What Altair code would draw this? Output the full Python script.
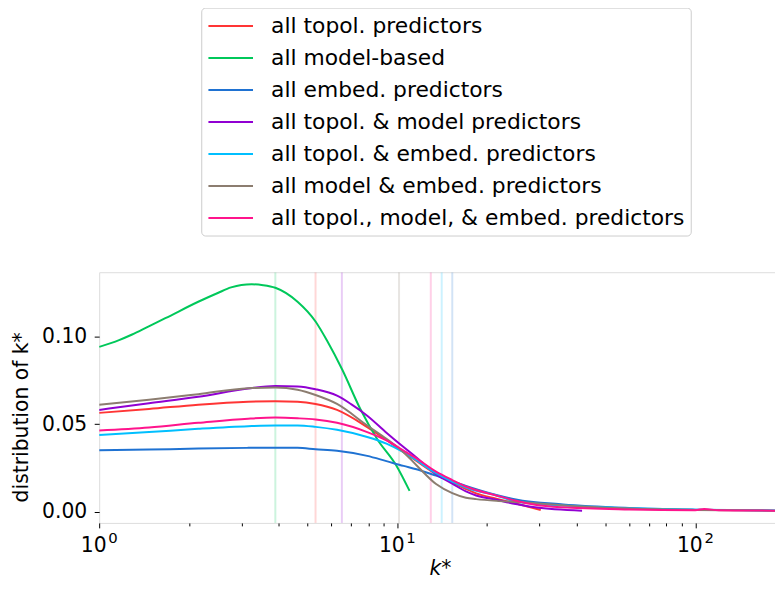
import altair as alt
import pandas as pd

names = [
    "all topol. predictors",
    "all model-based",
    "all embed. predictors",
    "all topol. & model predictors",
    "all topol. & embed. predictors",
    "all model & embed. predictors",
    "all topol., model, & embed. predictors",
]
colors = ["#ff3535", "#00c85a", "#1f72d2", "#9100d2", "#00bfff", "#8c7d70", "#ff148c"]

red_k = [1, 1.47, 2.15, 3.16, 3.9, 4.63, 5.32, 6.28, 7.93, 9.2, 10.5, 11.6, 13.5, 15.3, 17.0, 18.4, 21.5, 25, 30.3]
red_y = [0.0565, 0.0587, 0.0612, 0.0629, 0.0632, 0.0629, 0.0616, 0.0582, 0.0484, 0.0410, 0.0340, 0.0290, 0.0215, 0.0168, 0.0130, 0.0105, 0.0075, 0.0047, 0.0010]

green_k = [1, 1.166, 1.29, 1.467, 1.667, 2.15, 2.5, 2.77, 3.0, 3.25, 3.55, 3.9, 4.63, 5.32, 5.83, 6.53, 7.52, 8.55, 9.96, 11.0]
green_y = [0.0942, 0.0981, 0.1013, 0.1060, 0.1106, 0.1200, 0.1250, 0.1282, 0.1296, 0.1300, 0.1295, 0.1280, 0.1200, 0.1087, 0.0974, 0.0814, 0.0587, 0.0417, 0.0260, 0.0119]

blue_k = [1, 1.47, 2.15, 3.16, 3.9, 4.63, 5.32, 6.28, 7.93, 9.2, 10.5, 11.6, 13.5, 15.3, 17.0, 21.5, 25, 36, 60, 100, 190]
blue_y = [0.0351, 0.0355, 0.0361, 0.0365, 0.0366, 0.0365, 0.0357, 0.0348, 0.0319, 0.0289, 0.0262, 0.0243, 0.0206, 0.0174, 0.0148, 0.0096, 0.0070, 0.0042, 0.0022, 0.0012, 0.0006]

purple_k = [1, 1.47, 2.15, 3.16, 3.9, 4.63, 5.32, 6.28, 7.0, 7.93, 9.2, 10.5, 11.6, 13.5, 15.3, 17.0, 18.4, 21.5, 25, 29, 41.7]
purple_y = [0.0582, 0.0620, 0.0657, 0.0704, 0.0719, 0.0716, 0.0700, 0.0663, 0.0615, 0.0549, 0.0452, 0.0370, 0.0310, 0.0215, 0.0160, 0.0116, 0.0093, 0.0068, 0.0044, 0.0025, 0.0006]

cyan_k = [1, 1.47, 2.15, 3.16, 3.9, 4.63, 5.32, 6.28, 7.93, 9.2, 10.5, 11.6, 13.5, 15.3, 17.0, 21.5, 25, 36, 60, 100, 190]
cyan_y = [0.0438, 0.0455, 0.0474, 0.0489, 0.0493, 0.0493, 0.0485, 0.0468, 0.0427, 0.0389, 0.0340, 0.0294, 0.0220, 0.0172, 0.0138, 0.0093, 0.0058, 0.0035, 0.0020, 0.0012, 0.0007]

gray_k = [1, 1.47, 2.15, 3.16, 3.9, 4.63, 5.32, 6.28, 7.93, 9.2, 10.5, 11.6, 13.5, 15.3, 17.0, 18.4, 21.5, 25, 41.7, 60, 100, 140, 190]
gray_y = [0.0612, 0.0640, 0.0672, 0.0706, 0.0710, 0.0697, 0.0667, 0.0616, 0.0493, 0.0417, 0.0340, 0.0266, 0.0158, 0.0106, 0.0080, 0.0072, 0.0062, 0.0056, 0.0030, 0.0018, 0.0010, 0.0008, 0.0006]

pink_k = [1, 1.47, 2.15, 3.16, 3.9, 4.63, 5.32, 6.28, 7.93, 9.2, 10.5, 11.6, 13.5, 15.3, 17.0, 21.5, 25, 29, 36, 60, 100, 107, 120, 140, 190]
pink_y = [0.0464, 0.0481, 0.0508, 0.0532, 0.0538, 0.0534, 0.0527, 0.0508, 0.0455, 0.0408, 0.0350, 0.0305, 0.0229, 0.0181, 0.0144, 0.0093, 0.0063, 0.0040, 0.0025, 0.0013, 0.0009, 0.0016, 0.0008, 0.0007, 0.0006]

# vertical marker lines (k value per series)
marker_k = [3.9, 5.32, 6.52, 10.14, 12.96, 14.1, 15.3]
marker_col = [colors[1], colors[0], colors[3], colors[5], colors[6], colors[4], colors[2]]

major_ticks = [1, 10, 100]
minor_ticks = [2, 3, 4, 5, 6, 7, 8, 9, 20, 30, 40, 50, 60, 70, 80, 90]

series_k = [red_k, green_k, blue_k, purple_k, cyan_k, gray_k, pink_k]
series_y = [red_y, green_y, blue_y, purple_y, cyan_y, gray_y, pink_y]

rows = []
for i, (n, ks, ys) in enumerate(zip(names, series_k, series_y)):
    for k, y in zip(ks, ys):
        rows.append({"series": n, "k": k, "y": y, "idx": i})
df = pd.DataFrame(rows)
vdf = pd.DataFrame({"k": marker_k, "col": marker_col})

FONT = "DejaVu Sans"
xscale = alt.Scale(type="log", domain=[1, 185.1], nice=False)
yscale = alt.Scale(domain=[-0.0064, 0.1369], nice=False, zero=False)

major_axis = alt.Axis(
    values=major_ticks,
    labelExpr="'10'", labelFlush=False, labelOverlap=False,
    tickSize=5, labelPadding=8, labelFontSize=20.5, labelFont=FONT,
    labelOffset=-6, labelColor="black", tickColor="black", domain=False, grid=False,
    title="k*", titleFontStyle="italic", titleFontWeight="normal",
    titleFontSize=20.5, titleFont=FONT, titleColor="black",
    titleBaseline="bottom", titleY=56, titleX=344, orient="bottom",
)
exp_axis = alt.Axis(
    values=major_ticks,
    labelExpr="datum.value == 1 ? '0' : (datum.value == 10 ? '1' : '2')",
    labelFlush=False, labelOverlap=False,
    ticks=False, tickSize=0, labelPadding=8, labelFontSize=15, labelFont=FONT,
    labelOffset=13.5, labelColor="black", domain=False, grid=False,
    title=None, orient="bottom",
)
minor_axis = alt.Axis(
    values=minor_ticks,
    labels=False, tickSize=3, tickColor="black", domain=False, grid=False,
    title=None, orient="bottom",
)
y_axis = alt.Axis(
    values=[0, 0.05, 0.10], format=".2f", tickSize=5, labelPadding=7.5,
    labelFontSize=20.5, labelFont=FONT, labelColor="black", tickColor="black",
    domain=False, grid=False, title="distribution of k*", titleFontSize=20.5,
    titleFont=FONT, titleFontWeight="normal", titleColor="black",
    titleBaseline="alphabetic", titleX=-72, titleY=146,
)

rules = alt.Chart(vdf).mark_rule(strokeWidth=2, opacity=0.2, clip=True).encode(
    x=alt.X("k:Q", scale=xscale, axis=major_axis),
    stroke=alt.Stroke("col:N", scale=None),
)

exp_layer = alt.Chart(vdf).mark_rule(opacity=0).encode(
    x=alt.X("k:Q", scale=xscale, axis=exp_axis),
)

lines = alt.Chart(df).mark_line(strokeWidth=2, interpolate="monotone", clip=True).encode(
    x=alt.X("k:Q", scale=xscale, axis=minor_axis),
    y=alt.Y("y:Q", scale=yscale, axis=y_axis),
    color=alt.Color(
        "series:N",
        scale=alt.Scale(domain=names, range=colors),
        sort=names,
        legend=alt.Legend(
            title=None, orient="none", legendX=103, legendY=-267,
            direction="vertical", padding=6, strokeColor="#cccccc",
            cornerRadius=4, fillColor="white", symbolType="M-1,0H3",
            symbolSize=506, symbolStrokeWidth=2, labelFontSize=22,
            labelFont=FONT, labelColor="black", labelOffset=39.5,
            rowPadding=8.3, labelLimit=1000,
        ),
    ),
    detail="idx:N",
)

chart = alt.layer(rules, exp_layer, lines).resolve_axis(x="independent").properties(
    width=682, height=253,
    autosize=alt.AutoSizeParams(type="none"),
    padding={"left": 92, "top": 264, "right": 0, "bottom": 56},
).configure_view(stroke="black", strokeWidth=1.2).configure(font=FONT)

chart.save("out.html", embed_options={"renderer": "svg", "actions": False})
